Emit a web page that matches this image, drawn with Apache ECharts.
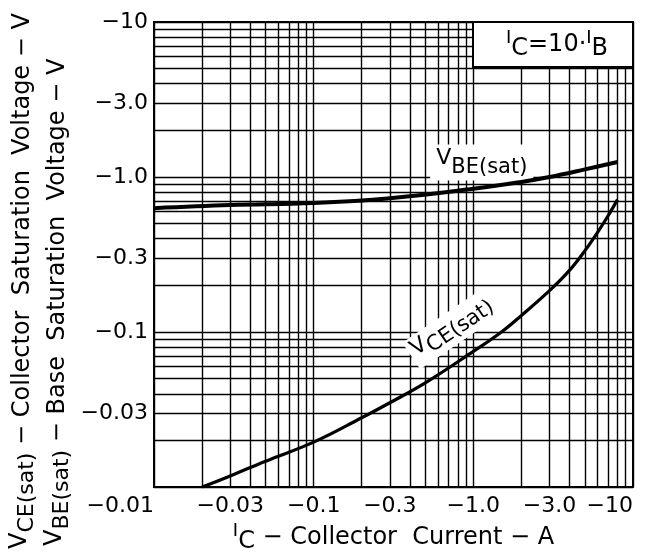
<!DOCTYPE html>
<html>
<head>
<meta charset="utf-8">
<script src="https://cdn.jsdelivr.net/npm/echarts@6/dist/echarts.min.js"></script>
<style>
html, body { margin: 0; padding: 0; background: #fff; }
#chart { width: 648px; height: 559px; }
</style>
</head>
<body>
<div id="chart"></div>
<script>
// values (magnitudes, the axis labels carry the minus sign)
var vbeCurrent = [0.01, 0.03, 0.1, 0.3, 1, 2, 3, 5, 8];
var vbeVoltage = [0.63, 0.66, 0.68, 0.73, 0.84, 0.93, 1.0, 1.12, 1.25];
var vceCurrent = [0.02, 0.03, 0.05, 0.1, 0.2, 0.3, 0.5, 1, 1.5, 2, 3, 4, 5, 6, 7, 8];
var vceVoltage = [0.01, 0.0118, 0.0147, 0.0195, 0.028, 0.035, 0.047, 0.075, 0.1, 0.128, 0.185, 0.25, 0.335, 0.44, 0.565, 0.715];

var xTickValues = [0.01, 0.03, 0.1, 0.3, 1, 3, 10];
var xTickLabels = ['\u22120.01', '\u22120.03', '\u22120.1', '\u22120.3', '\u22121.0', '\u22123.0', '\u221210'];
var yTickValues = [0.03, 0.1, 0.3, 1, 3, 10];
var yTickLabels = ['\u22120.03', '\u22120.1', '\u22120.3', '\u22121.0', '\u22123.0', '\u221210'];

// log paper grid: 1..9 in every decade
var decades = [0.01, 0.1, 1];
var gridSteps = [1, 2, 3, 4, 5, 6, 7, 8, 9];
var gridValues = [];
decades.forEach(function (d) {
    gridSteps.forEach(function (m) { gridValues.push(+(d * m).toPrecision(3)); });
});
gridValues.push(10);

function pairs(xs, ys) {
    return xs.map(function (x, i) { return [x, ys[i]]; });
}
function lookup(values, labels) {
    return function (v) {
        for (var i = 0; i < values.length; i++) {
            if (Math.abs(v - values[i]) < values[i] * 1e-6) return labels[i];
        }
        return '';
    };
}

var FONT = 'DejaVu Sans';
var INK = '#000';

var myChart = echarts.init(document.getElementById('chart'));

var option = {
    animation: false,
    backgroundColor: '#fff',
    textStyle: { fontFamily: FONT, color: INK },
    grid: {
        left: 154, right: 15, top: 22, bottom: 71,
        show: true, borderColor: '#000', borderWidth: 2
    },
    xAxis: {
        type: 'log',
        logBase: 10,
        min: 0.01,
        max: 10,
        name: '{i|I}{c|C}{t| \u2212 Collector  Current \u2212 A}',
        nameLocation: 'middle',
        nameGap: 34,
        nameTextStyle: {
            rich: {
                i: { fontFamily: FONT, fontSize: 18, lineHeight: 18, verticalAlign: 'top', color: INK },
                c: { fontFamily: FONT, fontSize: 24, lineHeight: 24, verticalAlign: 'bottom', color: INK },
                t: { fontFamily: FONT, fontSize: 24, lineHeight: 32, verticalAlign: 'middle', color: INK }
            }
        },
        axisLine: { show: true, lineStyle: { color: '#000', width: 2 } },
        axisTick: { show: false, customValues: gridValues },
        splitLine: { show: true, lineStyle: { color: '#000', width: 1.4 } },
        axisLabel: {
            customValues: xTickValues,
            formatter: lookup(xTickValues, xTickLabels),
            fontFamily: FONT,
            fontSize: 22,
            color: INK,
            margin: 8,
            alignMinLabel: 'right',
            alignMaxLabel: 'right'
        }
    },
    yAxis: {
        type: 'log',
        logBase: 10,
        min: 0.01,
        max: 10,
        axisLine: { show: true, lineStyle: { color: '#000', width: 2 } },
        axisTick: { show: false, customValues: gridValues },
        splitLine: { show: true, lineStyle: { color: '#000', width: 1.4 } },
        axisLabel: {
            customValues: yTickValues,
            formatter: lookup(yTickValues, yTickLabels),
            fontFamily: FONT,
            fontSize: 22,
            color: INK,
            margin: 6,
            padding: [12, 0, 0, 0]
        }
    },
    graphic: [
        {
            type: 'text', x: 23, y: 549, rotation: Math.PI / 2, z: 100,
            style: {
                text: '{v|V}{s|CE(sat)}{t| \u2212 Collector  Saturation  Voltage \u2212 V}',
                align: 'left', verticalAlign: 'middle',
                rich: {
                    v: { fontFamily: FONT, fontSize: 24, lineHeight: 24, verticalAlign: 'top', fill: INK },
                    s: { fontFamily: FONT, fontSize: 22, lineHeight: 22, verticalAlign: 'bottom', fill: INK },
                    t: { fontFamily: FONT, fontSize: 24, lineHeight: 30, verticalAlign: 'middle', fill: INK }
                }
            }
        },
        {
            type: 'text', x: 58, y: 546, rotation: Math.PI / 2, z: 100,
            style: {
                text: '{v|V}{s|BE(sat)}{t| \u2212 Base  Saturation  Voltage \u2212 V}',
                align: 'left', verticalAlign: 'middle',
                rich: {
                    v: { fontFamily: FONT, fontSize: 24, lineHeight: 24, verticalAlign: 'top', fill: INK },
                    s: { fontFamily: FONT, fontSize: 22, lineHeight: 22, verticalAlign: 'bottom', fill: INK },
                    t: { fontFamily: FONT, fontSize: 24, lineHeight: 30, verticalAlign: 'middle', fill: INK }
                }
            }
        },
        {
            type: 'rect', z: 100,
            shape: { x: 473, y: 22, width: 160, height: 45 },
            style: { fill: '#fff', stroke: '#000', lineWidth: 2 }
        },
        {
            type: 'text', x: 557, y: 45, z: 101,
            style: {
                text: '{i|I}{c|C}{t|=10\u00b7}{i|I}{c|B}',
                align: 'center', verticalAlign: 'middle',
                rich: {
                    i: { fontFamily: FONT, fontSize: 18, lineHeight: 18, verticalAlign: 'top', fill: INK },
                    c: { fontFamily: FONT, fontSize: 24, lineHeight: 24, verticalAlign: 'bottom', fill: INK },
                    t: { fontFamily: FONT, fontSize: 24, lineHeight: 32, verticalAlign: 'middle', fill: INK }
                }
            }
        }
    ],
    series: [
        {
            name: 'VBE(sat)',
            type: 'line',
            data: pairs(vbeCurrent, vbeVoltage),
            symbol: 'none',
            smooth: 0.4,
            lineStyle: { color: '#000', width: 4 },
            z: 5,
            markPoint: {
                symbol: 'circle',
                symbolSize: 1,
                itemStyle: { color: 'rgba(0,0,0,0)' },
                label: {
                    show: true,
                    position: 'inside',
                    backgroundColor: '#fff',
                    padding: [3, 6],
                    formatter: '{v|V}{s|BE(sat)}',
                    rich: {
                        v: { fontFamily: FONT, fontSize: 22, lineHeight: 22, verticalAlign: 'top', color: INK },
                        s: { fontFamily: FONT, fontSize: 21, lineHeight: 30, verticalAlign: 'bottom', color: INK }
                    }
                },
                data: [{ coord: [1.13, 1.24] }]
            }
        },
        {
            name: 'VCE(sat)',
            type: 'line',
            data: pairs(vceCurrent, vceVoltage),
            symbol: 'none',
            smooth: 0.4,
            lineStyle: { color: '#000', width: 3.2 },
            z: 5,
            markPoint: {
                symbol: 'circle',
                symbolSize: 1,
                itemStyle: { color: 'rgba(0,0,0,0)' },
                label: {
                    show: true,
                    position: 'inside',
                    rotate: 34,
                    backgroundColor: '#fff',
                    padding: [2, 4],
                    formatter: '{v|V}{s|CE(sat)}',
                    rich: {
                        v: { fontFamily: FONT, fontSize: 22, lineHeight: 22, verticalAlign: 'top', color: INK },
                        s: { fontFamily: FONT, fontSize: 21, lineHeight: 28, verticalAlign: 'bottom', color: INK }
                    }
                },
                data: [{ coord: [0.74, 0.106] }]
            }
        }
    ]
};

myChart.setOption(option);
</script>
</body>
</html>
